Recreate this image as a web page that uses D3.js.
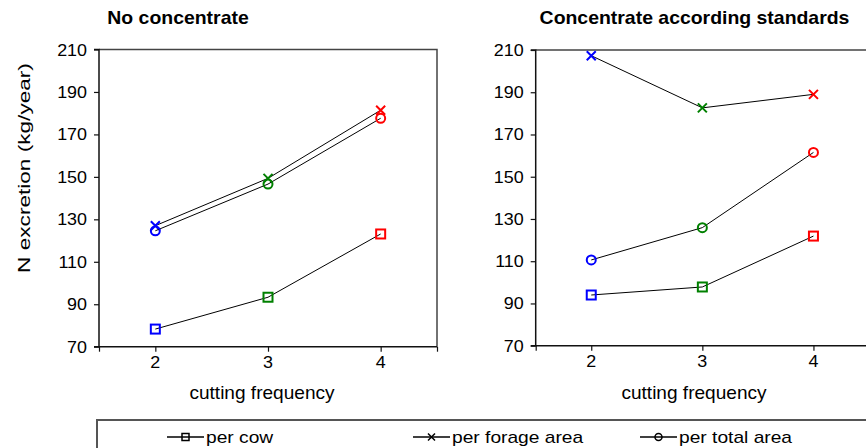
<!DOCTYPE html>
<html>
<head>
<meta charset="utf-8">
<script src="https://cdn.jsdelivr.net/npm/d3@7"></script>
<style>
  html, body { margin: 0; padding: 0; background: #fff; }
  svg { display: block; }
  text { font-family: "Liberation Sans", Arial, sans-serif; fill: #000; }
</style>
</head>
<body>
<svg id="chart" width="866" height="448"></svg>
<script>
// Cutting frequencies on the x axis
const cuttingFrequency = [2, 3, 4];
// Colour used for the marker at each cutting frequency
const pointColors = ["#0000ff", "#008000", "#ff0000"];

// N excretion (kg/year), no concentrate
const noConcPerCow = [78.3, 93.3, 123.1];
const noConcPerForageArea = [127.0, 149.3, 181.4];
const noConcPerTotalArea = [124.6, 146.6, 177.6];

// N excretion (kg/year), concentrate according to standards
const concPerCow = [94.0, 97.8, 121.9];
const concPerForageArea = [207.3, 182.6, 189.0];
const concPerTotalArea = [110.6, 125.9, 161.5];

const yTicks = [70, 90, 110, 130, 150, 170, 190, 210];
const xTickLabels = ["2", "3", "4"];
const seriesNames = ["per cow", "per forage area", "per total area"];
const seriesShapes = ["square", "cross", "circle"];

const svg = d3.select("#chart");

// Text helper: positions a label and lets it be widened along its baseline
function label(parent, str, x, y, opt = {}) {
  return parent.append("text")
    .attr("transform", `translate(${x},${y}) rotate(${opt.rotate || 0}) scale(${opt.sx || 1},1)`)
    .attr("text-anchor", opt.anchor || "start")
    .style("font-size", (opt.size || 16) + "px")
    .style("font-weight", opt.weight || "normal")
    .text(str);
}

// Marker drawing
function marker(parent, shape, x, y, color, size, width) {
  const h = size / 2;
  if (shape === "square") {
    parent.append("rect").attr("x", x - h).attr("y", y - h)
      .attr("width", size).attr("height", size)
      .attr("fill", "none").attr("stroke", color).attr("stroke-width", width);
  } else if (shape === "circle") {
    parent.append("circle").attr("cx", x).attr("cy", y).attr("r", h)
      .attr("fill", "none").attr("stroke", color).attr("stroke-width", width);
  } else {
    parent.append("path")
      .attr("d", `M${x - h},${y - h}L${x + h},${y + h}M${x - h},${y + h}L${x + h},${y - h}`)
      .attr("fill", "none").attr("stroke", color).attr("stroke-width", width);
  }
}

function panel(cfg) {
  const x = d3.scaleLinear().domain([1.5, 4.5]).range([cfg.left, cfg.right]);
  const y = d3.scaleLinear().domain([70, 210]).range([cfg.bottom, cfg.top]);
  const g = svg.append("g");

  // Frame (top and right edges)
  g.append("path")
    .attr("d", `M${cfg.left},${cfg.top}H${cfg.right}V${cfg.bottom}`)
    .attr("fill", "none").attr("stroke", "#444").attr("stroke-width", 1.5);

  // Y axis
  const yAxis = g.append("g").attr("transform", `translate(${cfg.left},0)`)
    .call(d3.axisLeft(y).tickValues(yTicks).tickSize(5).tickFormat(""));
  yAxis.select(".domain").attr("stroke", "#111").attr("stroke-width", 1.5).attr("d", `M-5,${cfg.bottom}H0V${cfg.top}H-5`);
  yAxis.selectAll(".tick line").attr("stroke", "#111").attr("stroke-width", 1.2);
  yTicks.forEach(v => label(g, String(v), cfg.left - 12, y(v) + 6, { anchor: "end", size: 16, sx: 1.12 }));

  // X axis
  const xAxis = g.append("g").attr("transform", `translate(0,${cfg.bottom})`)
    .call(d3.axisBottom(x).tickValues([1.5, 2, 3, 4, 4.5]).tickSize(5).tickFormat(""));
  xAxis.select(".domain").attr("stroke", "#111").attr("stroke-width", 1.5).attr("d", `M${cfg.left},0H${cfg.right}`);
  xAxis.selectAll(".tick line").attr("stroke", "#111").attr("stroke-width", 1.2);
  cuttingFrequency.forEach((c, i) => label(g, xTickLabels[i], x(c), cfg.bottom + 21, { anchor: "middle", size: 16, sx: 1.12 }));

  // Axis title and panel title
  label(g, "cutting frequency", cfg.xTitleX, 399, { anchor: "middle", size: 18, sx: 1.06 });
  label(g, cfg.title, cfg.titleX, 24, { anchor: "middle", size: 18, weight: "bold", sx: cfg.titleSx });

  // Series: black connecting line, coloured markers
  const line = d3.line().x((d, i) => x(cuttingFrequency[i])).y(d => y(d));
  cfg.series.forEach((vals, s) => {
    g.append("path").datum(vals).attr("d", line)
      .attr("fill", "none").attr("stroke", "#000").attr("stroke-width", 1);
    vals.forEach((v, i) => marker(g, seriesShapes[s], x(cuttingFrequency[i]), y(v), pointColors[i], 9, 2));
  });
}

panel({
  left: 99, right: 437, top: 49.5, bottom: 346.7,
  title: "No concentrate", titleX: 178, titleSx: 1.08, xTitleX: 262,
  series: [noConcPerCow, noConcPerForageArea, noConcPerTotalArea]
});

panel({
  left: 535.7, right: 869, top: 50, bottom: 345.7,
  title: "Concentrate according standards", titleX: 694.5, titleSx: 1.08, xTitleX: 694,
  series: [concPerCow, concPerForageArea, concPerTotalArea]
});

// Shared y axis title
label(svg, "N excretion (kg/year)", 30, 168, { anchor: "middle", size: 17, sx: 1.33, rotate: -90 });

// Legend
const legend = svg.append("g");
legend.append("rect").attr("x", 97).attr("y", 420).attr("width", 800).attr("height", 60)
  .attr("fill", "none").attr("stroke", "#555").attr("stroke-width", 2);
const legendX = [167, 413, 640];
seriesNames.forEach((name, s) => {
  const lx = legendX[s], ly = 437;
  legend.append("line").attr("x1", lx).attr("x2", lx + 37).attr("y1", ly).attr("y2", ly)
    .attr("stroke", "#000").attr("stroke-width", 1.5);
  marker(legend, seriesShapes[s], lx + 18.5, ly, "#000", 7, 1.5);
  label(legend, name, lx + 39, ly + 6, { size: 16, sx: 1.2 });
});
</script>
</body>
</html>
